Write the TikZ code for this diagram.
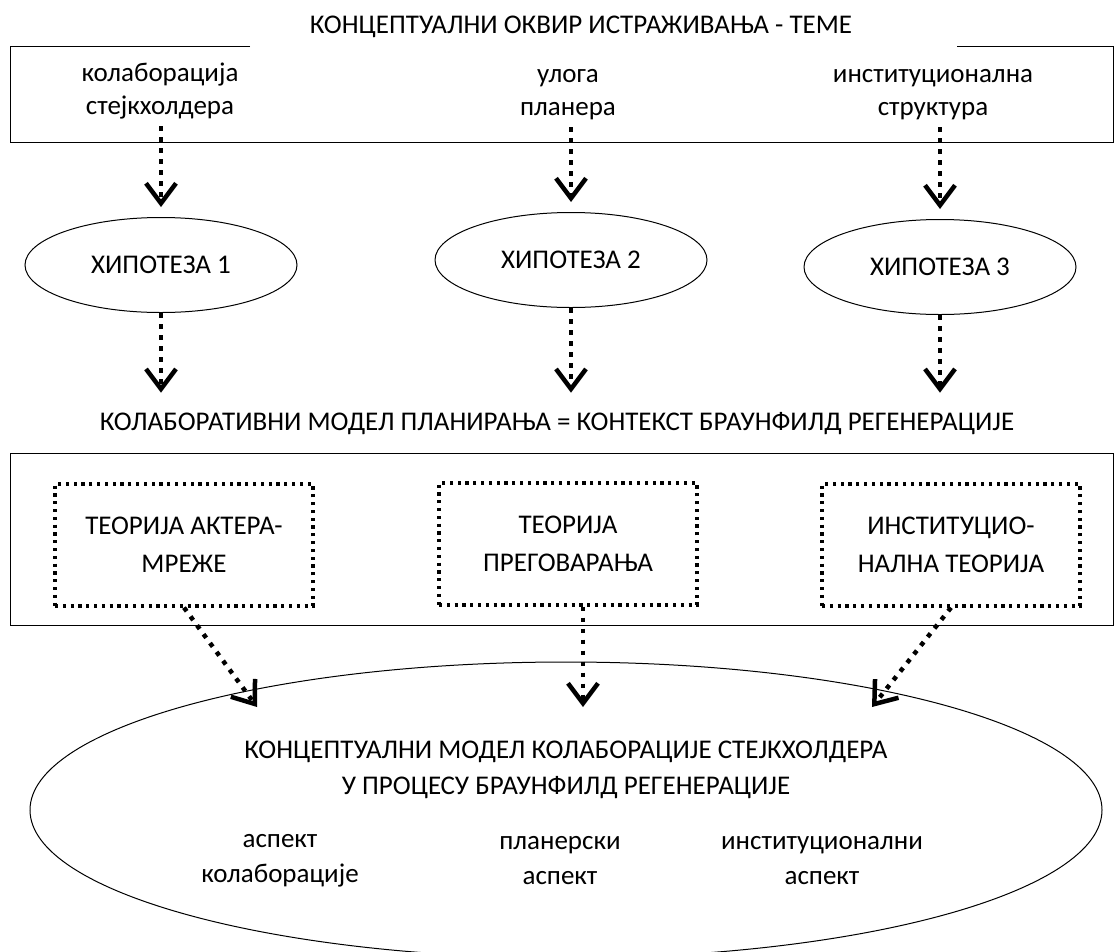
\documentclass[tikz,border=0pt]{standalone}
\usepackage{fontspec}
\setmainfont{Carlito}
\usetikzlibrary{arrows.meta,shapes.geometric}

\begin{document}
\begin{tikzpicture}[x=1pt,y=-1pt,
	txt/.style={font=\fontsize{27}{33}\selectfont, align=center, inner sep=0pt},
	frame/.style={line width=1pt},
	hyp/.style={txt, draw, ellipse, line width=1pt, minimum width=272pt, minimum height=95pt},
	theory/.style={txt, font=\fontsize{27}{38}\selectfont, draw, line width=3.2pt,
		dash pattern=on 3.2pt off 4.6pt, minimum width=258pt, minimum height=122pt},
	flow/.style={line width=4.5pt, dash pattern=on 4.5pt off 6.5pt,
		-{Straight Barb[length=20pt,width=30pt,line width=4.5pt]}}]

	\useasboundingbox (0,0) rectangle (1116,951);
	\clip (0,0) rectangle (1116,951);

	% teme
	\node[txt, anchor=base] (title) at (581,33) {КОНЦЕПТУАЛНИ ОКВИР ИСТРАЖИВАЊА - ТЕМЕ};
	\draw[frame] (250,46) -- (10,46) -- (10,142) -- (1113,142) -- (1113,46) -- (957,46);
	\node[txt] (topic1) at (160,91) {колаборација\\стејкхолдера};
	\node[txt] (topic2) at (568,95) {улога\\планера};
	\node[txt] (topic3) at (933,95) {институционална\\структура};

	% hipoteze
	\node[hyp] (hyp1) at (161,265) {ХИПОТЕЗА 1};
	\node[hyp] (hyp2) at (571,260) {ХИПОТЕЗА 2};
	\node[hyp] (hyp3) at (940,267) {ХИПОТЕЗА 3};
	\foreach \i in {1,2,3}
		\draw[flow, shorten <=7pt, shorten >=10pt] (hyp\i.north |- topic\i.south) -- (hyp\i.north);

	\node[txt, anchor=base] (context) at (557,430) {КОЛАБОРАТИВНИ МОДЕЛ ПЛАНИРАЊА = КОНТЕКСТ БРАУНФИЛД РЕГЕНЕРАЦИЈЕ};
	\foreach \i in {1,2,3}
		\draw[flow, shorten >=19pt] (hyp\i.south) -- (hyp\i.south |- context.north);

	% teorije
	\draw[frame] (10,453) rectangle (1113,625);
	\node[theory] (th1) at (184,545) {ТЕОРИЈА АКТЕРА-\\МРЕЖЕ};
	\node[theory] (th2) at (568,544) {ТЕОРИЈА\\ПРЕГОВАРАЊА};
	\node[theory] (th3) at (951,545) {ИНСТИТУЦИО-\\НАЛНА ТЕОРИЈА};

	% model
	\node[draw, ellipse, frame, inner sep=0pt, minimum width=1072pt, minimum height=296pt] (model) at (566,810) {};
	\coordinate (tip1) at (257,707);
	\coordinate (tip2) at (583,707);
	\coordinate (tip3) at (872,707);
	\draw[flow] (th1.south) -- (tip1);
	\draw[flow] (th2.south -| tip2) -- (tip2);
	\draw[flow] (th3.south) -- (tip3);

	\node[txt, font=\fontsize{27}{36}\selectfont] (modeltitle) at (566,770) {КОНЦЕПТУАЛНИ МОДЕЛ КОЛАБОРАЦИЈЕ СТЕЈКХОЛДЕРА\\У ПРОЦЕСУ БРАУНФИЛД РЕГЕНЕРАЦИЈЕ};
	\node[txt, font=\fontsize{27}{35}\selectfont] (aspect1) at (280,861) {аспект\\колаборације};
	\node[txt, font=\fontsize{27}{35}\selectfont] (aspect2) at (560,861) {планерски\\аспект};
	\node[txt, font=\fontsize{27}{35}\selectfont] (aspect3) at (822,861) {институционални\\аспект};

\end{tikzpicture}
\end{document}
